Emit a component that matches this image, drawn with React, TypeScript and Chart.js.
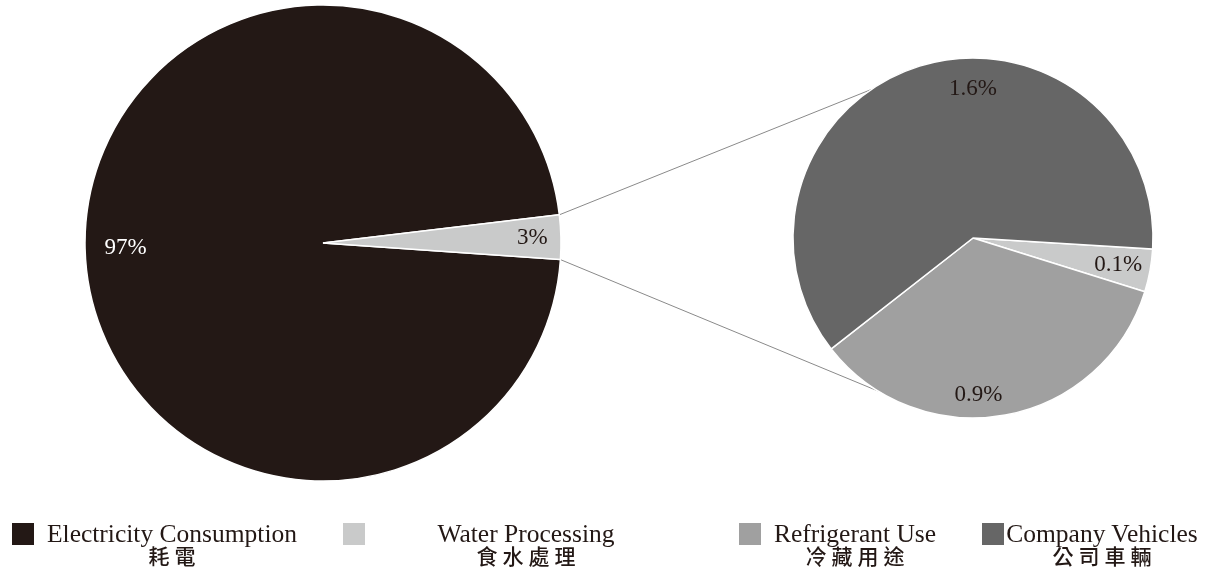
import React, { useEffect, useRef } from "react";
import { Chart, registerables } from "chart.js";

Chart.register(...registerables);

// ---------- data ----------
const mainLabels = ["Electricity Consumption", "Others"];
const mainValues = [97, 3];
const subLabels = ["Water Processing", "Refrigerant Use", "Company Vehicles"];
const subValues = [0.1, 0.9, 1.6];
const legendEnglish = ["Electricity Consumption", "Water Processing", "Refrigerant Use", "Company Vehicles"];
const legendChinese = ["耗電", "食水處理", "冷藏用途", "公司車輛"];

// ---------- style ----------
const DARK = "#231815";
const LIGHT = "#c9caca";
const MID = "#a0a0a0";
const DGRAY = "#666666";
const legendColors = [DARK, LIGHT, MID, DGRAY];
const SERIF = '"Liberation Serif", "Times New Roman", serif';
const CJK = '"Noto Sans CJK TC", "Noto Sans CJK SC", sans-serif';

// legend layout (square left, text centre)
const legendSquareX = [12, 343, 739, 982];
const legendTextCenter = [172, 526, 855, 1102];

const labelPlugin = {
  id: "sliceLabels",
  afterDatasetsDraw(chart: any, _args: any, opts: any) {
    const meta = chart.getDatasetMeta(0);
    const ctx = chart.ctx;
    const ds = chart.data.datasets[0];
    ctx.save();
    ctx.font = opts.font;
    ctx.textAlign = "center";
    ctx.textBaseline = "middle";
    meta.data.forEach((arc: any, i: number) => {
      const p = arc.getProps(["x", "y", "startAngle", "endAngle", "outerRadius"], true);
      const pos = (opts.positions && opts.positions[i]) || {};
      const ang = pos.a !== undefined ? (pos.a * Math.PI) / 180 : (p.startAngle + p.endAngle) / 2;
      const r = p.outerRadius * (pos.r !== undefined ? pos.r : 0.8);
      ctx.fillStyle = opts.colors[i];
      ctx.fillText(`${ds.data[i]}%`, p.x + Math.cos(ang) * r, p.y + Math.sin(ang) * r);
    });
    ctx.restore();
  },
};

const LEFT_BOX = { x: 83, y: 3, size: 480, radius: 238 };
const RIGHT_BOX = { x: 783, y: 48, size: 380, radius: 180 };
const connectorAngles = [235.6, 121.6];

export default function App() {
  const leftRef = useRef<HTMLCanvasElement>(null);
  const rightRef = useRef<HTMLCanvasElement>(null);
  const overlayRef = useRef<HTMLCanvasElement>(null);

  useEffect(() => {
    document.body.style.margin = "0";
    const left = new Chart(leftRef.current!, {
      type: "pie",
      data: {
        labels: mainLabels,
        datasets: [
          {
            data: mainValues,
            backgroundColor: [DARK, LIGHT],
            borderColor: "#ffffff",
            borderWidth: 1.5,
          },
        ],
      },
      options: {
        responsive: false,
        animation: false,
        rotation: 94,
        radius: LEFT_BOX.radius,
        layout: { padding: 0 },
        plugins: {
          legend: { display: false },
          tooltip: { enabled: false },
          sliceLabels: {
            font: `23px ${SERIF}`,
            colors: ["#ffffff", DARK],
            positions: [{ r: 0.83 }, { r: 0.88 }],
          },
        } as any,
      },
      plugins: [labelPlugin],
    });

    const right = new Chart(rightRef.current!, {
      type: "pie",
      data: {
        labels: subLabels,
        datasets: [
          {
            data: subValues,
            backgroundColor: [LIGHT, MID, DGRAY],
            borderColor: "#ffffff",
            borderWidth: 1.5,
          },
        ],
      },
      options: {
        responsive: false,
        animation: false,
        rotation: 93.5,
        radius: RIGHT_BOX.radius,
        layout: { padding: 0 },
        plugins: {
          legend: { display: false },
          tooltip: { enabled: false },
          sliceLabels: {
            font: `23px ${SERIF}`,
            colors: [DARK, DARK, DARK],
            positions: [{ r: 0.82 }, { r: 0.87, a: 88 }, { r: 0.83, a: -90 }],
          },
        } as any,
      },
      plugins: [labelPlugin],
    });

    // connector lines
    const oc = overlayRef.current!;
    const octx = oc.getContext("2d")!;
    octx.clearRect(0, 0, oc.width, oc.height);
    const la: any = left.getDatasetMeta(0).data[1].getProps(["x", "y", "startAngle", "endAngle", "outerRadius"], true);
    const ra: any = right.getDatasetMeta(0).data[0].getProps(["x", "y", "outerRadius"], true);
    const lcx = LEFT_BOX.x + la.x;
    const lcy = LEFT_BOX.y + la.y;
    const rcx = RIGHT_BOX.x + ra.x;
    const rcy = RIGHT_BOX.y + ra.y;
    const starts = [la.startAngle, la.endAngle];
    octx.strokeStyle = "#8a8a8a";
    octx.lineWidth = 1;
    starts.forEach((sa: number, i: number) => {
      const ea = (connectorAngles[i] * Math.PI) / 180;
      octx.beginPath();
      octx.moveTo(lcx + Math.cos(sa) * la.outerRadius, lcy + Math.sin(sa) * la.outerRadius);
      octx.lineTo(rcx + Math.cos(ea) * ra.outerRadius, rcy + Math.sin(ea) * ra.outerRadius);
      octx.stroke();
    });

    return () => {
      left.destroy();
      right.destroy();
    };
  }, []);

  return (
    <div style={{ position: "relative", width: 1215, height: 575, background: "#fff", overflow: "hidden" }}>
      <canvas
        ref={overlayRef}
        width={1215}
        height={575}
        style={{ position: "absolute", left: 0, top: 0, width: 1215, height: 575 }}
      />
      <canvas
        ref={leftRef}
        width={LEFT_BOX.size}
        height={LEFT_BOX.size}
        style={{ position: "absolute", left: LEFT_BOX.x, top: LEFT_BOX.y, width: LEFT_BOX.size, height: LEFT_BOX.size }}
      />
      <canvas
        ref={rightRef}
        width={RIGHT_BOX.size}
        height={RIGHT_BOX.size}
        style={{ position: "absolute", left: RIGHT_BOX.x, top: RIGHT_BOX.y, width: RIGHT_BOX.size, height: RIGHT_BOX.size }}
      />
      {legendEnglish.map((en, i) => (
        <React.Fragment key={en}>
          <div
            style={{
              position: "absolute",
              left: legendSquareX[i],
              top: 523,
              width: 22,
              height: 22,
              background: legendColors[i],
            }}
          />
          <div
            style={{
              position: "absolute",
              left: legendTextCenter[i] - 150,
              top: 521,
              width: 300,
              textAlign: "center",
              fontFamily: SERIF,
              fontSize: 25.5,
              lineHeight: "25px",
              color: DARK,
              whiteSpace: "nowrap",
            }}
          >
            {en}
          </div>
          <div
            style={{
              position: "absolute",
              left: legendTextCenter[i] - 150,
              top: 545,
              width: 300,
              textAlign: "center",
              fontFamily: CJK,
              fontSize: 21,
              fontWeight: 500,
              lineHeight: "21px",
              letterSpacing: 5,
              paddingLeft: 5,
              boxSizing: "border-box",
              color: DARK,
              whiteSpace: "nowrap",
            }}
          >
            {legendChinese[i]}
          </div>
        </React.Fragment>
      ))}
    </div>
  );
}
